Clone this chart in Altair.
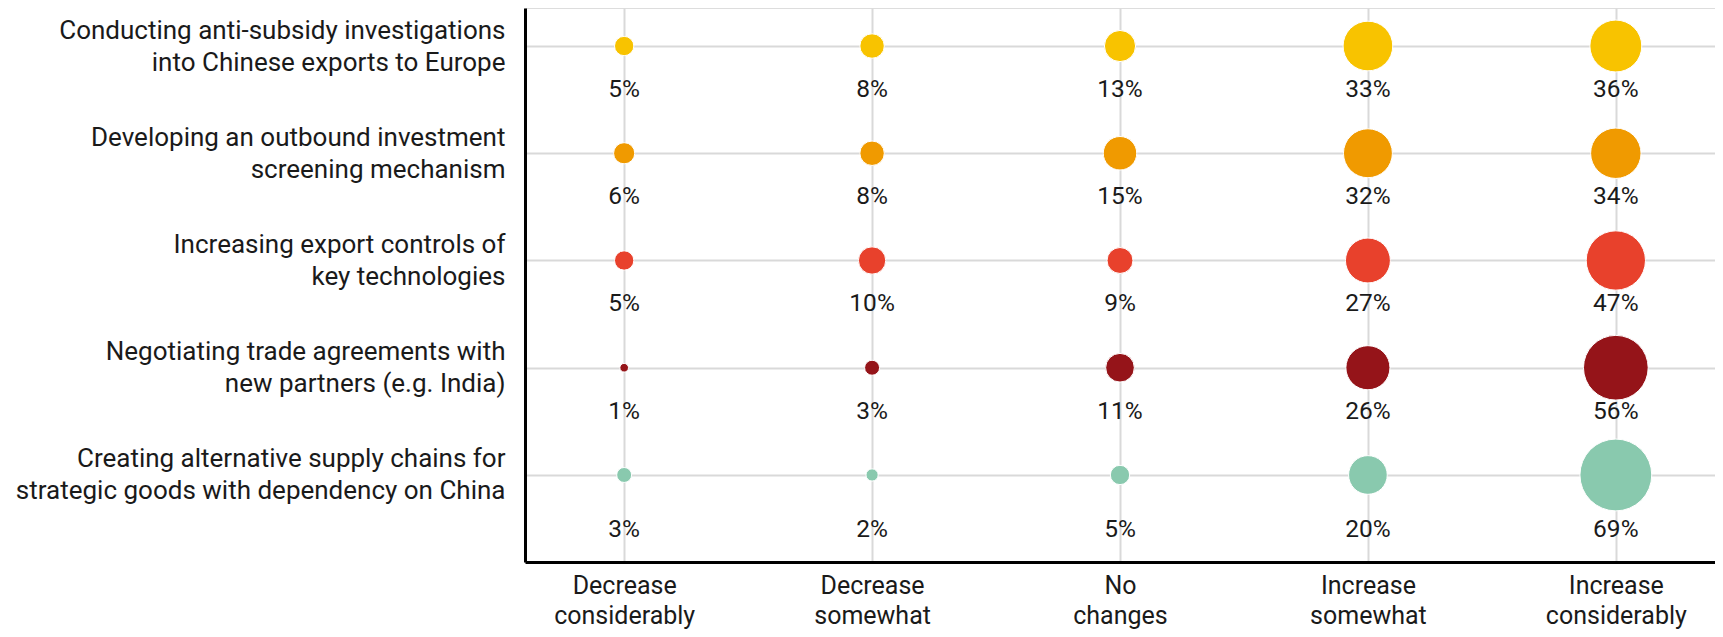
import altair as alt
import pandas as pd

statements = [
    "Conducting anti-subsidy investigations |into Chinese exports to Europe",
    "Developing an outbound investment |screening mechanism",
    "Increasing export controls of |key technologies",
    "Negotiating trade agreements with |new partners (e.g. India)",
    "Creating alternative supply chains for |strategic goods with dependency on China",
]
responses = [
    "Decrease|considerably",
    "Decrease|somewhat",
    "No|changes",
    "Increase|somewhat",
    "Increase|considerably",
]
row_colors = ["#F8C300", "#F09A00", "#E8412C", "#951419", "#89C9AE"]

values = [
    [5, 8, 13, 33, 36],
    [6, 8, 15, 32, 34],
    [5, 10, 9, 27, 47],
    [1, 3, 11, 26, 56],
    [3, 2, 5, 20, 69],
]

rows = []
for i, s in enumerate(statements):
    for j, r in enumerate(responses):
        rows.append({"statement": s, "response": r, "value": values[i][j],
                     "label": f"{values[i][j]}%", "last": i == len(statements) - 1})
df = pd.DataFrame(rows)

FONT = "Roboto"
TXT = "#1a1a1a"

x = alt.X("response:N", sort=responses,
          scale=alt.Scale(type="point", padding=0.4, align=0.5),
          axis=alt.Axis(title=None, orient="bottom", labelExpr="split(datum.label, '|')",
                        labelFontSize=25, labelLineHeight=30, labelColor=TXT,
                        labelFont=FONT, labelPadding=11, labelAngle=0,
                        ticks=False, domainColor="#000000", domainWidth=3,
                        grid=True, gridColor="#d9d9d9", gridWidth=2))
y = alt.Y("statement:N", sort=statements,
          scale=alt.Scale(type="point", padding=0.583, align=0.304),
          axis=alt.Axis(title=None, labelExpr="split(datum.label, '|')",
                        labelFontSize=26, labelLineHeight=32, labelColor=TXT,
                        labelFont=FONT, labelPadding=20, labelLimit=600,
                        labelOffset=-16,
                        ticks=False, domainColor="#000000", domainWidth=3,
                        grid=True, gridColor="#d9d9d9", gridWidth=2))

circles = alt.Chart(df).mark_circle(opacity=1, stroke="white", strokeWidth=1).encode(
    x=x, y=y,
    size=alt.Size("value:Q", scale=alt.Scale(type="linear", domain=[0, 69], range=[0, 5160]), legend=None),
    color=alt.Color("statement:N", sort=statements,
                    scale=alt.Scale(domain=statements, range=row_colors), legend=None),
)

text_top = alt.Chart(df).transform_filter("!datum.last").mark_text(
    dy=44, fontSize=24.5, font=FONT, color=TXT, baseline="middle").encode(
    x=x, y=y, text="label:N")
text_last = alt.Chart(df).transform_filter("datum.last").mark_text(
    dy=55, fontSize=24.5, font=FONT, color=TXT, baseline="middle").encode(
    x=x, y=y, text="label:N")

chart = alt.layer(circles, text_top, text_last).properties(
    width=1190, height=554,
    autosize=alt.AutoSizeParams(type="none"),
    padding={"left": 517, "top": 0, "right": 0, "bottom": 67},
).configure_view(stroke=None).configure(background="white")

chart.save("out.html", embed_options={"renderer": "svg", "actions": False})
